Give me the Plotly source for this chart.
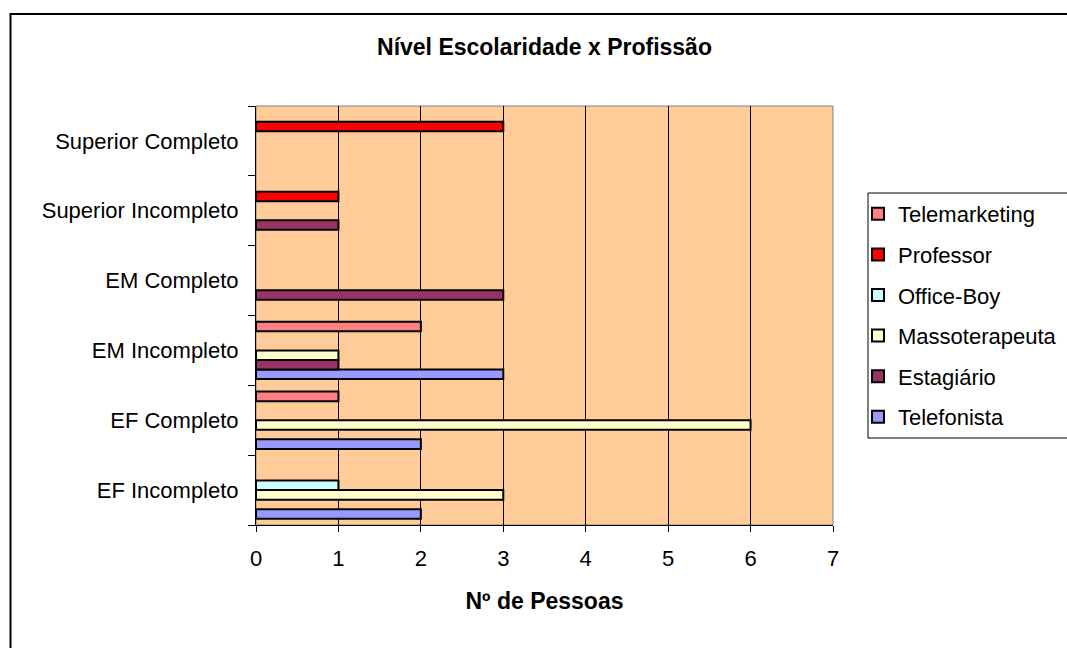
import plotly.graph_objects as go

categories = ["EF Incompleto", "EF Completo", "EM Incompleto", "EM Completo",
              "Superior Incompleto", "Superior Completo"]

# values per series, aligned with categories (None = no bar)
telefonista    = [2, 2, 3, None, None, None]
estagiario     = [None, None, 1, 3, 1, None]
massoterapeuta = [3, 6, 1, None, None, None]
office_boy     = [1, None, None, None, None, None]
professor      = [None, None, None, None, 1, 3]
telemarketing  = [None, 1, 2, None, None, None]

series_names = ["Telefonista", "Estagiário", "Massoterapeuta", "Office-Boy", "Professor", "Telemarketing"]
series_values = [telefonista, estagiario, massoterapeuta, office_boy, professor, telemarketing]
series_colors = ["#9999FF", "#993366", "#FFFFCC", "#CCFFFF", "#FF0000", "#FF8080"]

x_ticks = [0, 1, 2, 3, 4, 5, 6, 7]

FONT = "Liberation Sans, Arial, sans-serif"

fig = go.Figure()
n = len(series_names)
for i, (name, vals, col) in enumerate(zip(series_names, series_values, series_colors)):
    fig.add_trace(go.Bar(
        y=categories, x=vals, name=name, orientation="h",
        marker=dict(color=col, line=dict(color="black", width=2)),
        legendgroup=name, legendrank=n - i,
    ))

PW = 577.0
PH = 419.0

fig.update_layout(
    width=1067, height=648,
    margin=dict(l=256, r=234, t=106, b=123, autoexpand=False),
    paper_bgcolor="white", plot_bgcolor="#FFCC99",
    barmode="group", bargap=0.18, bargroupgap=0,
    font=dict(family=FONT, size=22, color="black"),
    title=dict(text="Nível Escolaridade x Profissão", x=0.5, xref="paper",
               y=1 - 47 / 648, yref="container", yanchor="middle", xanchor="center",
               font=dict(family=FONT, size=23, color="black", weight="bold")),
    legend=dict(x=(858 - 256) / PW, xanchor="left", y=(525 - 193) / PH, yanchor="top",
                traceorder="grouped", tracegroupgap=9,
                borderwidth=0, bgcolor="rgba(0,0,0,0)",
                font=dict(family=FONT, size=22, color="black")),
    xaxis=dict(range=[0, 7], tickvals=x_ticks, showgrid=True, gridcolor="black", gridwidth=1,
               showline=True, linecolor="black", linewidth=1, zeroline=False,
               ticks="outside", ticklen=6, tickcolor="black", ticklabelstandoff=8,
               title=dict(text="Nº de Pessoas", standoff=22,
                          font=dict(family=FONT, size=23, color="black", weight="bold"))),
    yaxis=dict(type="category", categoryorder="array", categoryarray=categories,
               showgrid=False, showline=True, linecolor="black", linewidth=1,
               ticks="outside", ticklen=7, tickcolor="black", tickson="boundaries",
               ticklabelstandoff=12),
    shapes=[
        dict(type="rect", xref="paper", yref="paper", x0=0, x1=1, y0=0, y1=1,
             line=dict(color="#808080", width=1), layer="below"),
        dict(type="rect", xref="paper", yref="paper",
             x0=(10.5 - 256) / PW, x1=(1090 - 256) / PW,
             y0=(525 - 680) / PH, y1=(525 - 14) / PH,
             line=dict(color="black", width=2), layer="below"),
        dict(type="rect", xref="paper", yref="paper",
             x0=(868 - 256) / PW, x1=(1080 - 256) / PW,
             y0=(525 - 438) / PH, y1=(525 - 193) / PH,
             line=dict(color="black", width=1), fillcolor="white", layer="below"),
    ],
)

fig.write_html("out.html")
